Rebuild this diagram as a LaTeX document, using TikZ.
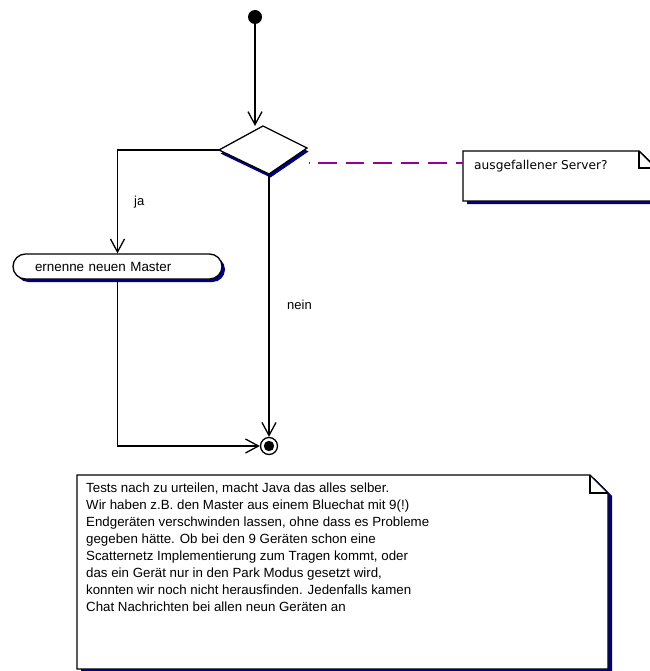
\documentclass[tikz,border=0pt]{standalone}
\usepackage{fontspec}
\setmainfont{Liberation Sans}
\newfontfamily\notefont{DejaVu Sans}
\usetikzlibrary{arrows.meta}
\definecolor{shadowblue}{RGB}{0,0,128}
\definecolor{linkpurple}{RGB}{150,0,150}

\tikzset{
  line/.style={line width=1.3pt},
  flow/.style={line, -{Straight Barb[length=13pt,width=14pt,line width=1.3pt]}},
  label/.style={font=\fontsize{13}{16}\selectfont, inner sep=0pt, anchor=base west},
  notetext/.style={font=\fontsize{13.3}{16.9}\selectfont, inner sep=0pt, anchor=north west, align=left},
  noteline/.style={line width=1.4pt},
  anchorlink/.style={linkpurple, line width=1.3pt,
    dash pattern=on 1pt off 8pt on 18.5pt off 9pt on 18.5pt off 9pt on 18.5pt off 9pt on 18.5pt off 9pt on 18.5pt off 9pt on 18.5pt off 9pt},
}

% a dog-eared note: #1 left, #2 top, #3 right, #4 bottom, #5 fold size
\newcommand{\dognote}[5]{%
  \fill[shadowblue] (#1+4,#2+3) -- (#3-#5+4,#2+3) -- (#3+4,#2+#5+3) -- (#3+4,#4+3) -- (#1+4,#4+3) -- cycle;
  \filldraw[noteline, fill=white] (#1,#2) -- (#3-#5,#2) -- (#3,#2+#5) -- (#3,#4) -- (#1,#4) -- cycle;
  \draw[noteline] (#3-#5,#2) -- (#3-#5,#2+#5) -- (#3,#2+#5);
}

\begin{document}
\begin{tikzpicture}[x=1pt,y=-1pt]
\useasboundingbox (0,0) rectangle (649,671);
\fill[white] (0,0) rectangle (649,671);

% initial state
\node[circle, fill=black, minimum size=14pt, inner sep=0pt] (start) at (255,17) {};

% decision diamond with its shadow
\coordinate (dt) at (263,126);
\coordinate (dr) at (307,148);
\coordinate (db) at (269,174);
\coordinate (dl) at (219,150);
\fill[shadowblue] ([shift={(1.5,3.5)}]dt) -- ([shift={(1.5,3.5)}]dr) -- ([shift={(1.5,3.5)}]db) -- ([shift={(1.5,3.5)}]dl) -- cycle;
\filldraw[line, fill=white] (dt) -- (dr) -- (db) -- (dl) -- cycle;

% action state with its shadow
\fill[shadowblue, rounded corners=12.5pt] (16,257) rectangle (225,282);
\node[draw, line, fill=white, rounded corners=12.5pt, minimum width=209pt, minimum height=25pt,
      text width=165pt, align=left, inner sep=0pt, font=\fontsize{13.4}{16}\selectfont] (act) at (117.5,266.5) {ernenne neuen Master};

% final state
\node[circle, draw, line, fill=white, minimum size=17pt, inner sep=0pt] (end) at (269,446) {};
\fill (end) circle (5.2pt);

% transitions
\draw[flow] (start) -- (start |- dt);
\draw[flow] (dl) -| (act.north);
\draw[flow] (db) -- (end.north);
\draw[flow] (act.south) |- (end.west);
\node[label] (ja) at (134,205) {ja};
\node[label] (nein) at (287,309) {nein};

% note attached to the decision
\dognote{463}{151}{656}{201}{17}
\node[inner sep=0pt, anchor=base west, font=\notefont\fontsize{12.2}{14}\selectfont] (note1) at (474,170) {ausgefallener Server?};
\coordinate (linkstart) at (309,163);
\draw[anchorlink] (linkstart) -- (463,163);

% comment note
\dognote{77}{475}{608}{669}{18}
\node[notetext] (note2) at (86,483) {Tests nach zu urteilen, macht Java das alles selber.\\
Wir haben z.B. den Master aus einem Bluechat mit 9(!)\\
Endgeräten verschwinden lassen, ohne dass es Probleme\\
gegeben hätte. Ob bei den 9 Geräten schon eine\\
Scatternetz Implementierung zum Tragen kommt, oder\\
das ein Gerät nur in den Park Modus gesetzt wird,\\
konnten wir noch nicht herausfinden. Jedenfalls kamen\\
Chat Nachrichten bei allen neun Geräten an};
\end{tikzpicture}
\end{document}
